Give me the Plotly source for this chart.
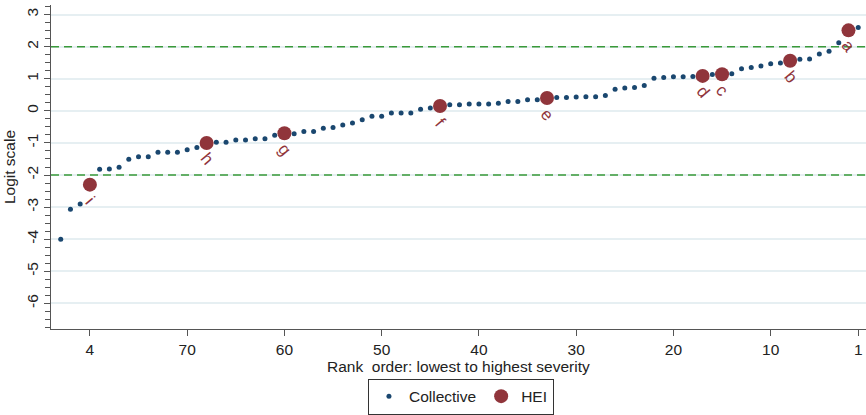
import plotly.graph_objects as go

# ---- data ----
coll_rank = list(range(83, 0, -1))
coll_val = [-4.00, -3.07, -2.90, -2.30, -1.82, -1.81, -1.76, -1.51, -1.43, -1.43,
            -1.29, -1.29, -1.29, -1.21, -1.14, -1.00, -0.98, -0.98, -0.91, -0.91,
            -0.87, -0.87, -0.76, -0.70, -0.71, -0.64, -0.64, -0.54, -0.52, -0.44,
            -0.38, -0.28, -0.17, -0.17, -0.07, -0.07, -0.07, 0.05, 0.09, 0.15,
            0.19, 0.19, 0.21, 0.21, 0.21, 0.24, 0.29, 0.29, 0.35, 0.35,
            0.40, 0.42, 0.42, 0.43, 0.44, 0.44, 0.48, 0.67, 0.71, 0.73,
            0.79, 1.02, 1.04, 1.06, 1.06, 1.07, 1.09, 1.13, 1.14, 1.16,
            1.31, 1.35, 1.40, 1.47, 1.49, 1.56, 1.61, 1.62, 1.77, 1.86,
            2.12, 2.51, 2.60]

hei_rank = [2, 8, 15, 17, 33, 44, 60, 68, 80]
hei_val = [2.51, 1.56, 1.14, 1.09, 0.40, 0.15, -0.70, -1.00, -2.30]
hei_label = ["a", "b", "c", "d", "e", "f", "g", "h", "i"]

ref_lines = [2, -2]

x_tickvals = [80, 70, 60, 50, 40, 30, 20, 10, 1]
x_ticktext = ["4", "70", "60", "50", "40", "30", "20", "10", "1"]
y_tickvals = [3, 2, 1, 0, -1, -2, -3, -4, -5, -6]
y_ticktext = ["3", "2", "1", "0", "-1", "-2", "-3", "-4", "-5", "-6"]

NAVY = "#1a476f"
MAROON = "#90353b"
GREEN = "#3a9a3a"
FONT = "Arial, Liberation Sans, sans-serif"

fig = go.Figure()
fig.add_trace(go.Scatter(
    x=coll_rank, y=coll_val, mode="markers", name="Collective",
    marker=dict(color=NAVY, size=5, line=dict(width=0)),
))
fig.add_trace(go.Scatter(
    x=hei_rank, y=hei_val, mode="markers", name="HEI",
    marker=dict(color=MAROON, size=14, line=dict(width=0)),
))

for yv in ref_lines:
    fig.add_shape(type="line", xref="paper", x0=0, x1=1, yref="y", y0=yv, y1=yv,
                  line=dict(color=GREEN, width=1.5, dash="8px,5px"), layer="above")

for xr, yv, lab in zip(hei_rank, hei_val, hei_label):
    fig.add_annotation(x=xr, y=yv, text=lab, showarrow=False, textangle=50,
                       yshift=-16, font=dict(family=FONT, size=17, color=MAROON))

fig.add_annotation(xref="paper", yref="paper", x=0.5006, y=-0.115, yanchor="middle",
                   text="Rank  order: lowest to highest severity", showarrow=False,
                   font=dict(family=FONT, size=15.5, color="#222"))

fig.update_layout(
    width=866, height=415,
    margin=dict(l=51, r=0, t=5, b=80),
    paper_bgcolor="white", plot_bgcolor="white",
    font=dict(family=FONT, size=15.5, color="#222"),
    showlegend=True,
    legend=dict(orientation="h", xanchor="center", x=0.503, yanchor="top", y=-0.153,
                bordercolor="#333", borderwidth=1, font=dict(size=15.5),
                itemwidth=30, tracegroupgap=0),
)
fig.update_xaxes(
    range=[84, 0.2], tickmode="array", tickvals=x_tickvals, ticktext=x_ticktext,
    showgrid=False, zeroline=False, showline=True, linecolor="#555", linewidth=1,
    ticks="outside", ticklen=6, tickcolor="#555", tickfont=dict(size=15.5),
)
fig.update_yaxes(
    range=[-6.8, 3.3], tickmode="array", tickvals=y_tickvals, ticktext=y_ticktext,
    tickangle=-90,
    showgrid=True, gridcolor="#e6eff2", gridwidth=1.5, zeroline=False,
    showline=True, linecolor="#555", linewidth=1,
    ticks="outside", ticklen=6, tickcolor="#555", tickfont=dict(size=15.5),
    minor=dict(dtick=0.25, ticks="outside", ticklen=5, tickcolor="#555", showgrid=False),
    title=dict(text="Logit scale", font=dict(size=15.5), standoff=4),
)

fig.write_html("out.html")
